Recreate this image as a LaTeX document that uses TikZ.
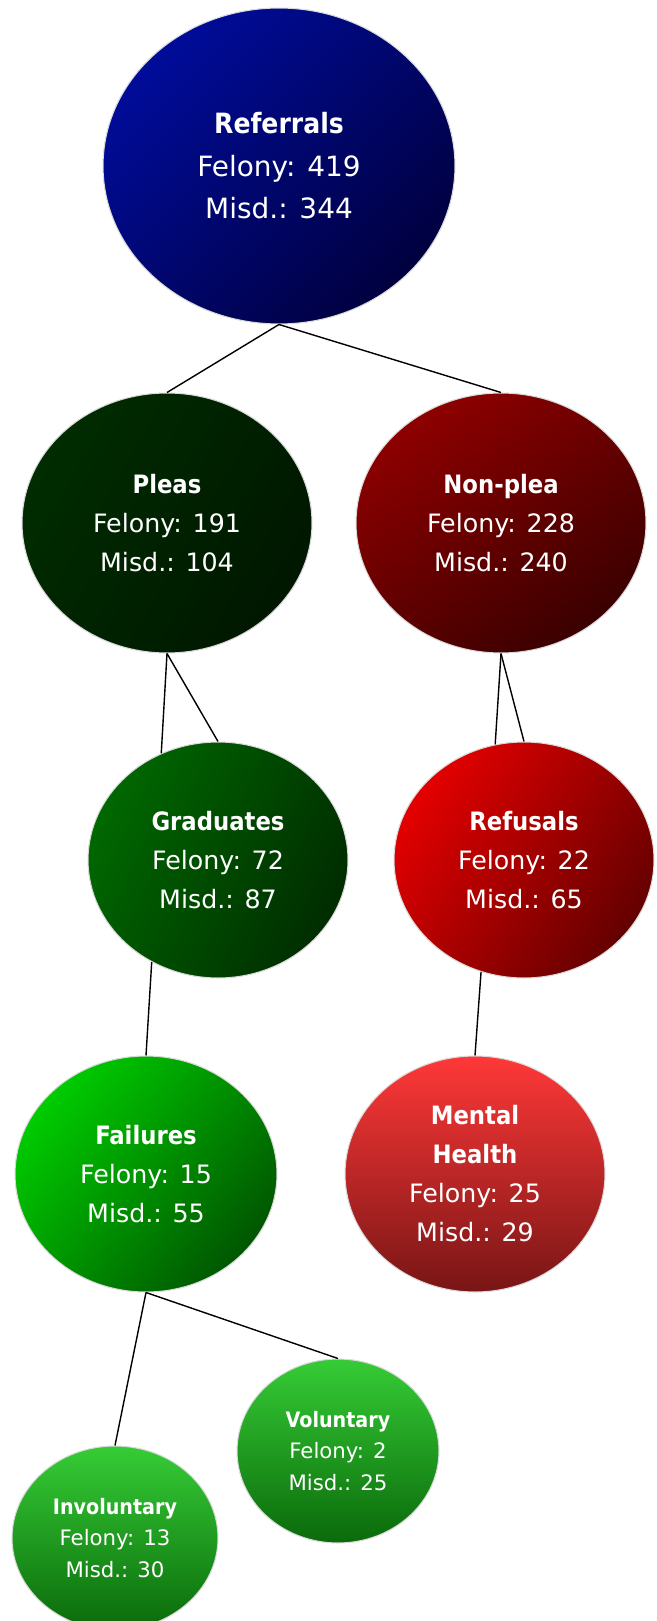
\documentclass[tikz,border=0pt]{standalone}
\usepackage{fontspec}
\setmainfont{DejaVu Sans}[BoldFont={DejaVu Sans Condensed Bold}]
\usetikzlibrary{shapes.geometric}

\definecolor{refTL}{HTML}{000C9A}
\definecolor{refBR}{HTML}{00003F}
\definecolor{pleaTL}{HTML}{002C00}
\definecolor{pleaBR}{HTML}{001700}
\definecolor{nonTL}{HTML}{8E0000}
\definecolor{nonBR}{HTML}{3A0000}
\definecolor{gradTL}{HTML}{006800}
\definecolor{gradBR}{HTML}{002C00}
\definecolor{refuTL}{HTML}{E40000}
\definecolor{refuBR}{HTML}{640000}
\definecolor{failTL}{HTML}{00CC00}
\definecolor{failBR}{HTML}{005600}
\definecolor{mentT}{HTML}{FF3838}
\definecolor{mentB}{HTML}{781515}
\definecolor{volT}{HTML}{36CC36}
\definecolor{volB}{HTML}{0A6A0A}

\begin{document}
\begin{tikzpicture}[x=0.02cm, y=-0.02cm,
    bubble/.style={ellipse, draw=black!15, line width=0.6pt, inner sep=0pt, text=white, align=center},
    bigfont/.style={font=\fontsize{14.4}{22.2}\selectfont},
    smallfont/.style={font=\fontsize{12.1}{17.9}\selectfont},
    link/.style={line width=0.8pt}]
    \useasboundingbox (0,0) rectangle (656,1621);

    % top
    \node (ref) at (279,166) [bubble, minimum width=7.04cm, minimum height=6.32cm, top color=refTL, bottom color=refBR, shading angle=45, font=\fontsize{15.9}{24.2}\selectfont] {\textbf{Referrals}\\Felony: 419\\Misd.: 344};

    % second row
    \node (pleas) at (167,523) [bubble, bigfont, minimum width=5.8cm, minimum height=5.2cm, top color=pleaTL, bottom color=pleaBR, shading angle=60] {\textbf{Pleas}\\Felony: 191\\Misd.: 104};
    \node (nonplea) at (501,523) [bubble, bigfont, minimum width=5.8cm, minimum height=5.2cm, top color=nonTL, bottom color=nonBR, shading angle=35] {\textbf{Non-plea}\\Felony: 228\\Misd.: 240};

    % third row
    \node (grad) at (218,860) [bubble, bigfont, minimum width=5.2cm, minimum height=4.72cm, top color=gradTL, bottom color=gradBR, shading angle=65] {\textbf{Graduates}\\Felony: 72\\Misd.: 87};
    \node (refu) at (524,860) [bubble, bigfont, minimum width=5.2cm, minimum height=4.72cm, top color=refuTL, bottom color=refuBR, shading angle=55] {\textbf{Refusals}\\Felony: 22\\Misd.: 65};

    % fourth row
    \node (fail) at (146,1174) [bubble, bigfont, minimum width=5.24cm, minimum height=4.72cm, top color=failTL, bottom color=failBR, shading angle=50] {\textbf{Failures}\\Felony: 15\\Misd.: 55};
    \node (ment) at (475,1174) [bubble, bigfont, minimum width=5.2cm, minimum height=4.72cm, top color=mentT, bottom color=mentB] {\textbf{Mental}\\\textbf{Health}\\Felony: 25\\Misd.: 29};

    % bottom
    \node (vol) at (338,1451) [bubble, smallfont, minimum width=4.04cm, minimum height=3.68cm, top color=volT, bottom color=volB] {\textbf{Voluntary}\\Felony: 2\\Misd.: 25};
    \node (invol) at (115,1538) [bubble, smallfont, minimum width=4.12cm, minimum height=3.68cm, top color=volT, bottom color=volB] {\textbf{Involuntary}\\Felony: 13\\Misd.: 30};

    % links
    \draw [link] (ref.south) -- (pleas.north);
    \draw [link] (ref.south) -- (nonplea.north);
    \draw [link] (pleas.south) -- (grad.118);
    \draw [link] (pleas.south) -- (grad.north);
    \draw [link] (nonplea.south) -- (refu.104);
    \draw [link] (nonplea.south) -- (refu.north);
    \draw [link] (grad.237) -- (fail.north);
    \draw [link] (refu.249) -- (ment.north);
    \draw [link] (fail.south) -- (invol.north);
    \draw [link] (fail.south) -- (vol.north);
\end{tikzpicture}
\end{document}
